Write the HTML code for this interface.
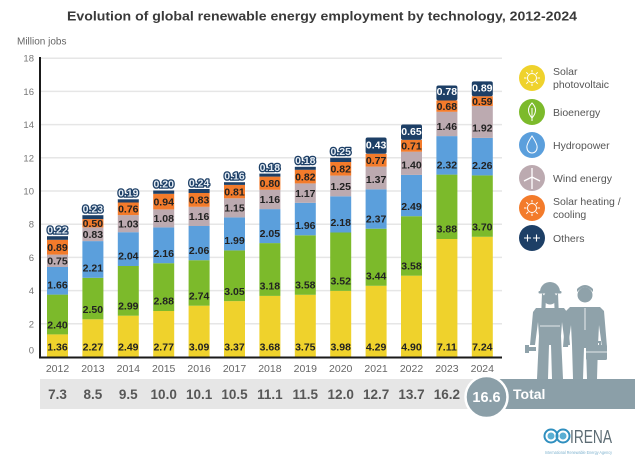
<!DOCTYPE html>
<html><head><meta charset="utf-8"><style>
html,body{margin:0;padding:0;background:#fff;}
svg{display:block;}
text{font-family:"Liberation Sans",Arial,sans-serif;}
.l{font-size:10.5px;font-weight:bold;fill:#222;text-anchor:middle;}
.o{font-size:10.5px;font-weight:bold;fill:#e3ebf3;stroke:#1d3f66;stroke-width:2.6px;paint-order:stroke;stroke-linejoin:round;text-anchor:middle;}
.ow{font-size:10.5px;font-weight:bold;fill:#fff;text-anchor:middle;}
.yr{font-size:10.5px;fill:#666;text-anchor:middle;}
.tt{font-size:13.5px;font-weight:bold;fill:#575757;text-anchor:middle;}
.yt{font-size:9.5px;fill:#777;text-anchor:end;}
.lg{font-size:10.5px;fill:#555;}
</style></head><body>
<svg width="644" height="460" viewBox="0 0 644 460" xmlns="http://www.w3.org/2000/svg">
<rect width="644" height="460" fill="#fff"/>
<text x="322" y="20.5" text-anchor="middle" font-size="13.2" font-weight="bold" fill="#3a3a3a" textLength="510" lengthAdjust="spacingAndGlyphs">Evolution of global renewable energy employment by technology, 2012-2024</text>
<text x="17" y="44.5" font-size="10" fill="#666">Million jobs</text>

<!-- gridlines -->
<g stroke="#e6e6e6" stroke-width="1.5">
<line x1="40" x2="502" y1="323.8" y2="323.8"/>
<line x1="40" x2="502" y1="290.6" y2="290.6"/>
<line x1="40" x2="502" y1="257.4" y2="257.4"/>
<line x1="40" x2="502" y1="224.2" y2="224.2"/>
<line x1="40" x2="502" y1="191" y2="191"/>
<line x1="40" x2="502" y1="157.8" y2="157.8"/>
<line x1="40" x2="502" y1="124.6" y2="124.6"/>
<line x1="40" x2="502" y1="91.4" y2="91.4"/>
<line x1="40" x2="502" y1="58.2" y2="58.2"/>
</g>
<g class="yt">
<text class="yt" x="34" y="353.5">0</text>
<text class="yt" x="34" y="327.3">2</text>
<text class="yt" x="34" y="294.1">4</text>
<text class="yt" x="34" y="260.9">6</text>
<text class="yt" x="34" y="227.7">8</text>
<text class="yt" x="34" y="194.5">10</text>
<text class="yt" x="34" y="161.3">12</text>
<text class="yt" x="34" y="128.1">14</text>
<text class="yt" x="34" y="94.9">16</text>
<text class="yt" x="34" y="61.7">18</text>
</g>

<!-- bars -->
<g>
<!-- 2012 -->
<rect x="47" y="334.4" width="21" height="22.6" fill="#efd22c"/>
<rect x="47" y="294.6" width="21" height="39.8" fill="#7cba2b"/>
<rect x="47" y="267.0" width="21" height="27.6" fill="#5b9fdc"/>
<rect x="47" y="254.6" width="21" height="12.4" fill="#bcaab0"/>
<rect x="47" y="239.8" width="21" height="14.8" fill="#f37b2b"/>
<rect x="47" y="236.2" width="21" height="3.6" fill="#1d3f66"/>
<text class="l" x="57.5" y="350.7">1.36</text>
<text class="l" x="57.5" y="328.3">2.40</text>
<text class="l" x="57.5" y="288.3">1.66</text>
<text class="l" x="57.5" y="264.5">0.75</text>
<text class="l" x="57.5" y="250.9">0.89</text>
<text class="o" x="57.5" y="233.7">0.22</text>
<!-- 2013 -->
<rect x="82.4" y="319.3" width="21" height="37.7" fill="#efd22c"/>
<rect x="82.4" y="277.8" width="21" height="41.5" fill="#7cba2b"/>
<rect x="82.4" y="241.1" width="21" height="36.7" fill="#5b9fdc"/>
<rect x="82.4" y="227.4" width="21" height="13.7" fill="#bcaab0"/>
<rect x="82.4" y="219.1" width="21" height="8.3" fill="#f37b2b"/>
<rect x="82.4" y="215.2" width="21" height="3.9" fill="#1d3f66"/>
<text class="l" x="92.9" y="350.7">2.27</text>
<text class="l" x="92.9" y="313.0">2.50</text>
<text class="l" x="92.9" y="271.5">2.21</text>
<text class="l" x="92.9" y="238.0">0.83</text>
<text class="l" x="92.9" y="227.0">0.50</text>
<text class="o" x="92.9" y="212.7">0.23</text>
<!-- 2014 -->
<rect x="117.8" y="315.7" width="21" height="41.3" fill="#efd22c"/>
<rect x="117.8" y="266.0" width="21" height="49.7" fill="#7cba2b"/>
<rect x="117.8" y="232.2" width="21" height="33.8" fill="#5b9fdc"/>
<rect x="117.8" y="215.1" width="21" height="17.1" fill="#bcaab0"/>
<rect x="117.8" y="202.5" width="21" height="12.6" fill="#f37b2b"/>
<rect x="117.8" y="199.3" width="21" height="3.2" fill="#1d3f66"/>
<text class="l" x="128.3" y="350.7">2.49</text>
<text class="l" x="128.3" y="309.4">2.99</text>
<text class="l" x="128.3" y="259.7">2.04</text>
<text class="l" x="128.3" y="227.3">1.03</text>
<text class="l" x="128.3" y="212.5">0.76</text>
<text class="o" x="128.3" y="196.7">0.19</text>
<!-- 2015 -->
<rect x="153.2" y="311.0" width="21" height="46" fill="#efd22c"/>
<rect x="153.2" y="263.2" width="21" height="47.8" fill="#7cba2b"/>
<rect x="153.2" y="227.4" width="21" height="35.8" fill="#5b9fdc"/>
<rect x="153.2" y="209.4" width="21" height="18" fill="#bcaab0"/>
<rect x="153.2" y="193.8" width="21" height="15.6" fill="#f37b2b"/>
<rect x="153.2" y="190.5" width="21" height="3.3" fill="#1d3f66"/>
<text class="l" x="163.7" y="350.7">2.77</text>
<text class="l" x="163.7" y="304.7">2.88</text>
<text class="l" x="163.7" y="256.9">2.16</text>
<text class="l" x="163.7" y="222.1">1.08</text>
<text class="l" x="163.7" y="205.3">0.94</text>
<text class="o" x="163.7" y="187.7">0.20</text>
<!-- 2016 -->
<rect x="188.6" y="305.7" width="21" height="51.3" fill="#efd22c"/>
<rect x="188.6" y="260.2" width="21" height="45.5" fill="#7cba2b"/>
<rect x="188.6" y="226.0" width="21" height="34.2" fill="#5b9fdc"/>
<rect x="188.6" y="206.8" width="21" height="19.2" fill="#bcaab0"/>
<rect x="188.6" y="193.0" width="21" height="13.8" fill="#f37b2b"/>
<rect x="188.6" y="189.0" width="21" height="4" fill="#1d3f66"/>
<text class="l" x="199.1" y="350.7">3.09</text>
<text class="l" x="199.1" y="299.4">2.74</text>
<text class="l" x="199.1" y="253.9">2.06</text>
<text class="l" x="199.1" y="220.1">1.16</text>
<text class="l" x="199.1" y="203.6">0.83</text>
<text class="o" x="199.1" y="186.5">0.24</text>
<!-- 2017 -->
<rect x="224" y="301.1" width="21" height="55.9" fill="#efd22c"/>
<rect x="224" y="250.4" width="21" height="50.7" fill="#7cba2b"/>
<rect x="224" y="217.4" width="21" height="33" fill="#5b9fdc"/>
<rect x="224" y="198.3" width="21" height="19.1" fill="#bcaab0"/>
<rect x="224" y="184.9" width="21" height="13.4" fill="#f37b2b"/>
<rect x="224" y="182.2" width="21" height="2.7" fill="#1d3f66"/>
<text class="l" x="234.5" y="350.7">3.37</text>
<text class="l" x="234.5" y="294.8">3.05</text>
<text class="l" x="234.5" y="244.1">1.99</text>
<text class="l" x="234.5" y="211.6">1.15</text>
<text class="l" x="234.5" y="195.3">0.81</text>
<text class="o" x="234.5" y="179.5">0.16</text>
<!-- 2018 -->
<rect x="259.4" y="295.9" width="21" height="61.1" fill="#efd22c"/>
<rect x="259.4" y="243.1" width="21" height="52.8" fill="#7cba2b"/>
<rect x="259.4" y="209.1" width="21" height="34" fill="#5b9fdc"/>
<rect x="259.4" y="189.8" width="21" height="19.3" fill="#bcaab0"/>
<rect x="259.4" y="176.6" width="21" height="13.2" fill="#f37b2b"/>
<rect x="259.4" y="173.6" width="21" height="3" fill="#1d3f66"/>
<text class="l" x="269.9" y="350.7">3.68</text>
<text class="l" x="269.9" y="289.6">3.18</text>
<text class="l" x="269.9" y="236.8">2.05</text>
<text class="l" x="269.9" y="203.2">1.16</text>
<text class="l" x="269.9" y="186.9">0.80</text>
<text class="o" x="269.9" y="171.0">0.18</text>
<!-- 2019 -->
<rect x="294.8" y="294.8" width="21" height="62.2" fill="#efd22c"/>
<rect x="294.8" y="235.3" width="21" height="59.5" fill="#7cba2b"/>
<rect x="294.8" y="202.8" width="21" height="32.5" fill="#5b9fdc"/>
<rect x="294.8" y="183.4" width="21" height="19.4" fill="#bcaab0"/>
<rect x="294.8" y="169.8" width="21" height="13.6" fill="#f37b2b"/>
<rect x="294.8" y="166.8" width="21" height="3" fill="#1d3f66"/>
<text class="l" x="305.3" y="350.7">3.75</text>
<text class="l" x="305.3" y="288.5">3.58</text>
<text class="l" x="305.3" y="229.0">1.96</text>
<text class="l" x="305.3" y="196.8">1.17</text>
<text class="l" x="305.3" y="180.3">0.82</text>
<text class="o" x="305.3" y="164.0">0.18</text>
<!-- 2020 -->
<rect x="330.2" y="290.9" width="21" height="66.1" fill="#efd22c"/>
<rect x="330.2" y="232.5" width="21" height="58.4" fill="#7cba2b"/>
<rect x="330.2" y="196.3" width="21" height="36.2" fill="#5b9fdc"/>
<rect x="330.2" y="175.6" width="21" height="20.7" fill="#bcaab0"/>
<rect x="330.2" y="162.0" width="21" height="13.6" fill="#f37b2b"/>
<rect x="330.2" y="157.8" width="21" height="4.2" fill="#1d3f66"/>
<text class="l" x="340.7" y="350.7">3.98</text>
<text class="l" x="340.7" y="284.6">3.52</text>
<text class="l" x="340.7" y="226.2">2.18</text>
<text class="l" x="340.7" y="190.0">1.25</text>
<text class="l" x="340.7" y="172.5">0.82</text>
<text class="o" x="340.7" y="155.0">0.25</text>
<!-- 2021 -->
<rect x="365.6" y="285.8" width="21" height="71.2" fill="#efd22c"/>
<rect x="365.6" y="228.7" width="21" height="57.1" fill="#7cba2b"/>
<rect x="365.6" y="189.3" width="21" height="39.4" fill="#5b9fdc"/>
<rect x="365.6" y="166.6" width="21" height="22.7" fill="#bcaab0"/>
<rect x="365.6" y="153.8" width="21" height="12.8" fill="#f37b2b"/>
<rect x="365.6" y="137.5" width="21" height="16.3" rx="2" fill="#1d3f66"/>
<text class="l" x="376.1" y="350.7">4.29</text>
<text class="l" x="376.1" y="279.5">3.44</text>
<text class="l" x="376.1" y="222.4">2.37</text>
<text class="l" x="376.1" y="183.0">1.37</text>
<text class="l" x="376.1" y="163.9">0.77</text>
<text class="ow" x="376.1" y="148.5">0.43</text>
<!-- 2022 -->
<rect x="401" y="275.7" width="21" height="81.3" fill="#efd22c"/>
<rect x="401" y="216.2" width="21" height="59.5" fill="#7cba2b"/>
<rect x="401" y="174.9" width="21" height="41.3" fill="#5b9fdc"/>
<rect x="401" y="151.7" width="21" height="23.2" fill="#bcaab0"/>
<rect x="401" y="139.9" width="21" height="11.8" fill="#f37b2b"/>
<rect x="401" y="124.5" width="21" height="15.4" rx="2" fill="#1d3f66"/>
<text class="l" x="411.5" y="350.7">4.90</text>
<text class="l" x="411.5" y="269.4">3.58</text>
<text class="l" x="411.5" y="209.9">2.49</text>
<text class="l" x="411.5" y="168.6">1.40</text>
<text class="l" x="411.5" y="149.5">0.71</text>
<text class="ow" x="411.5" y="135.0">0.65</text>
<!-- 2023 -->
<rect x="436.4" y="239.0" width="21" height="118" fill="#efd22c"/>
<rect x="436.4" y="174.6" width="21" height="64.4" fill="#7cba2b"/>
<rect x="436.4" y="136.1" width="21" height="38.5" fill="#5b9fdc"/>
<rect x="436.4" y="111.8" width="21" height="24.3" fill="#bcaab0"/>
<rect x="436.4" y="100.5" width="21" height="11.3" fill="#f37b2b"/>
<rect x="436.4" y="85.5" width="21" height="15" rx="2" fill="#1d3f66"/>
<text class="l" x="446.9" y="350.7">7.11</text>
<text class="l" x="446.9" y="232.7">3.88</text>
<text class="l" x="446.9" y="168.3">2.32</text>
<text class="l" x="446.9" y="129.8">1.46</text>
<text class="l" x="446.9" y="109.9">0.68</text>
<text class="ow" x="446.9" y="95.2">0.78</text>
<!-- 2024 -->
<rect x="471.8" y="236.8" width="21" height="120.2" fill="#efd22c"/>
<rect x="471.8" y="175.4" width="21" height="61.4" fill="#7cba2b"/>
<rect x="471.8" y="137.9" width="21" height="37.5" fill="#5b9fdc"/>
<rect x="471.8" y="106.0" width="21" height="31.9" fill="#bcaab0"/>
<rect x="471.8" y="96.2" width="21" height="9.8" fill="#f37b2b"/>
<rect x="471.8" y="81.4" width="21" height="14.8" rx="2" fill="#1d3f66"/>
<text class="l" x="482.3" y="350.7">7.24</text>
<text class="l" x="482.3" y="230.5">3.70</text>
<text class="l" x="482.3" y="169.1">2.26</text>
<text class="l" x="482.3" y="131.6">1.92</text>
<text class="l" x="482.3" y="104.8">0.59</text>
<text class="ow" x="482.3" y="91.5">0.89</text>
</g>

<!-- axes -->
<line x1="40" y1="57" x2="40" y2="358" stroke="#1a1a1a" stroke-width="2"/>
<line x1="39" y1="357.5" x2="502" y2="357.5" stroke="#1a1a1a" stroke-width="2"/>

<!-- years -->
<text class="yr" x="57.5" y="372">2012</text>
<text class="yr" x="92.9" y="372">2013</text>
<text class="yr" x="128.3" y="372">2014</text>
<text class="yr" x="163.7" y="372">2015</text>
<text class="yr" x="199.1" y="372">2016</text>
<text class="yr" x="234.5" y="372">2017</text>
<text class="yr" x="269.9" y="372">2018</text>
<text class="yr" x="305.3" y="372">2019</text>
<text class="yr" x="340.7" y="372">2020</text>
<text class="yr" x="376.1" y="372">2021</text>
<text class="yr" x="411.5" y="372">2022</text>
<text class="yr" x="446.9" y="372">2023</text>
<text class="yr" x="482.3" y="372">2024</text>

<!-- people -->
<g fill="#8fa2aa">
  <!-- woman -->
  <path d="M540,292 A10,10 0 0 1 560,292 Z"/>
  <rect x="538.5" y="291" width="23" height="2.5" rx="1"/>
  <circle cx="550" cy="298" r="6.5"/>
  <path d="M542,293 L541,318 L545,318 L546,298 Z M558,293 L559,318 L555,318 L554,298 Z"/>
  <path d="M536,308 L564,308 L567,312 L570,345 L565,345 L562,322 L561,336 L563,379 L552,379 L551,345 L549,345 L548,379 L537,379 L539,336 L538,322 L535,345 L530,345 L533,312 Z"/>
  <path d="M527,347 L536,347 L536,351 L527,351 Z M525,345 L529,345 L529,353 L525,353 Z"/>
  <!-- man -->
  <circle cx="585" cy="295" r="7.5"/>
  <path d="M577,292 Q585,283 593,292 L593,289 Q585,281 577,289 Z"/>
  <path d="M570,307 L600,307 L604,311 L607,347 L602,347 L599,325 L598,345 L597,379 L587,379 L586,348 L584,348 L583,379 L573,379 L572,345 L571,325 L568,347 L563,347 L566,311 Z"/>
  <rect x="586" y="345" width="21" height="15" rx="1.5"/>
  <path d="M592,345 L592,341 L601,341 L601,345 L599,345 L599,343 L594,343 L594,345 Z"/>
</g>
<g stroke="#fff" stroke-width="0.8" fill="none">
  <line x1="585" y1="308" x2="585" y2="330"/>
  <line x1="586" y1="352" x2="607" y2="352"/>
  <line x1="540" y1="326" x2="560" y2="326"/>
</g>

<!-- totals band -->
<rect x="40" y="379" width="450" height="30" fill="#e6e6e6"/>
<rect x="490" y="379" width="145" height="30" fill="#8b9fa8"/>
<circle cx="486.5" cy="397" r="21" fill="#8b9fa8" stroke="#fff" stroke-width="2.5"/>
<text x="486.5" y="402" font-size="14.5" font-weight="bold" fill="#fff" text-anchor="middle">16.6</text>
<text x="513" y="399" font-size="14" font-weight="bold" fill="#fff">Total</text>
<text class="tt" x="57.5" y="399">7.3</text>
<text class="tt" x="92.9" y="399">8.5</text>
<text class="tt" x="128.3" y="399">9.5</text>
<text class="tt" x="163.7" y="399">10.0</text>
<text class="tt" x="199.1" y="399">10.1</text>
<text class="tt" x="234.5" y="399">10.5</text>
<text class="tt" x="269.9" y="399">11.1</text>
<text class="tt" x="305.3" y="399">11.5</text>
<text class="tt" x="340.7" y="399">12.0</text>
<text class="tt" x="376.1" y="399">12.7</text>
<text class="tt" x="411.5" y="399">13.7</text>
<text class="tt" x="446.9" y="399">16.2</text>

<!-- legend -->
<g>
  <circle cx="532" cy="78" r="13" fill="#efd22c"/>
  <g stroke="#fff" stroke-width="1" fill="none">
    <circle cx="532" cy="78" r="4.5"/>
    <path d="M532,70v2.5M532,83.5v2.5M524,78h2.5M537.5,78h2.5M526.3,72.3l1.8,1.8M535.9,81.9l1.8,1.8M537.7,72.3l-1.8,1.8M528.1,81.9l-1.8,1.8"/>
  </g>
  <text class="lg" x="553" y="75">Solar</text>
  <text class="lg" x="553" y="88">photovoltaic</text>

  <circle cx="532" cy="112" r="13" fill="#7cba2b"/>
  <path d="M532,103 Q539,110 532,118 Q525,110 532,103 Z M532,108 V121" stroke="#fff" stroke-width="1" fill="none"/>
  <text class="lg" x="553" y="116">Bioenergy</text>

  <circle cx="532" cy="145" r="13" fill="#5b9fdc"/>
  <path d="M532,136 Q538,145 537,148 A5,5 0 0 1 527,148 Q526,145 532,136 Z" stroke="#fff" stroke-width="1" fill="none"/>
  <text class="lg" x="553" y="149">Hydropower</text>

  <circle cx="532" cy="178" r="13" fill="#bcaab0"/>
  <path d="M532,177 V189 M532,177 L532,168 M532,177 L524,181 M532,177 L540,181" stroke="#fff" stroke-width="1.3" fill="none"/>
  <text class="lg" x="553" y="182">Wind energy</text>

  <circle cx="532" cy="208" r="13" fill="#f37b2b"/>
  <g stroke="#fff" stroke-width="1" fill="none">
    <circle cx="532" cy="208" r="4.5"/>
    <path d="M532,200v2.5M532,213.5v2.5M524,208h2.5M537.5,208h2.5M526.3,202.3l1.8,1.8M535.9,211.9l1.8,1.8M537.7,202.3l-1.8,1.8M528.1,211.9l-1.8,1.8"/>
  </g>
  <text class="lg" x="553" y="205">Solar heating /</text>
  <text class="lg" x="553" y="218">cooling</text>

  <circle cx="532" cy="238" r="13" fill="#1d3f66"/>
  <path d="M524,238h7M527.5,234.5v7M533,238h7M536.5,234.5v7" stroke="#fff" stroke-width="1.1" fill="none"/>
  <text class="lg" x="553" y="242">Others</text>
</g>

<!-- IRENA logo -->
<g>
  <circle cx="551" cy="436" r="6.5" fill="none" stroke="#2f8fbf" stroke-width="2"/>
  <circle cx="563" cy="436" r="6.5" fill="none" stroke="#2f8fbf" stroke-width="2"/>
  <circle cx="551" cy="436" r="3.5" fill="#5aaed3"/>
  <circle cx="563" cy="436" r="3.5" fill="#5aaed3"/>
  <text x="570" y="443" font-size="18" fill="#5d6c74" textLength="42" lengthAdjust="spacingAndGlyphs">IRENA</text>
  <text x="545" y="454" font-size="4.5" fill="#7fb3cf" textLength="67" lengthAdjust="spacingAndGlyphs">International Renewable Energy Agency</text>
</g>
</svg>
</body></html>
